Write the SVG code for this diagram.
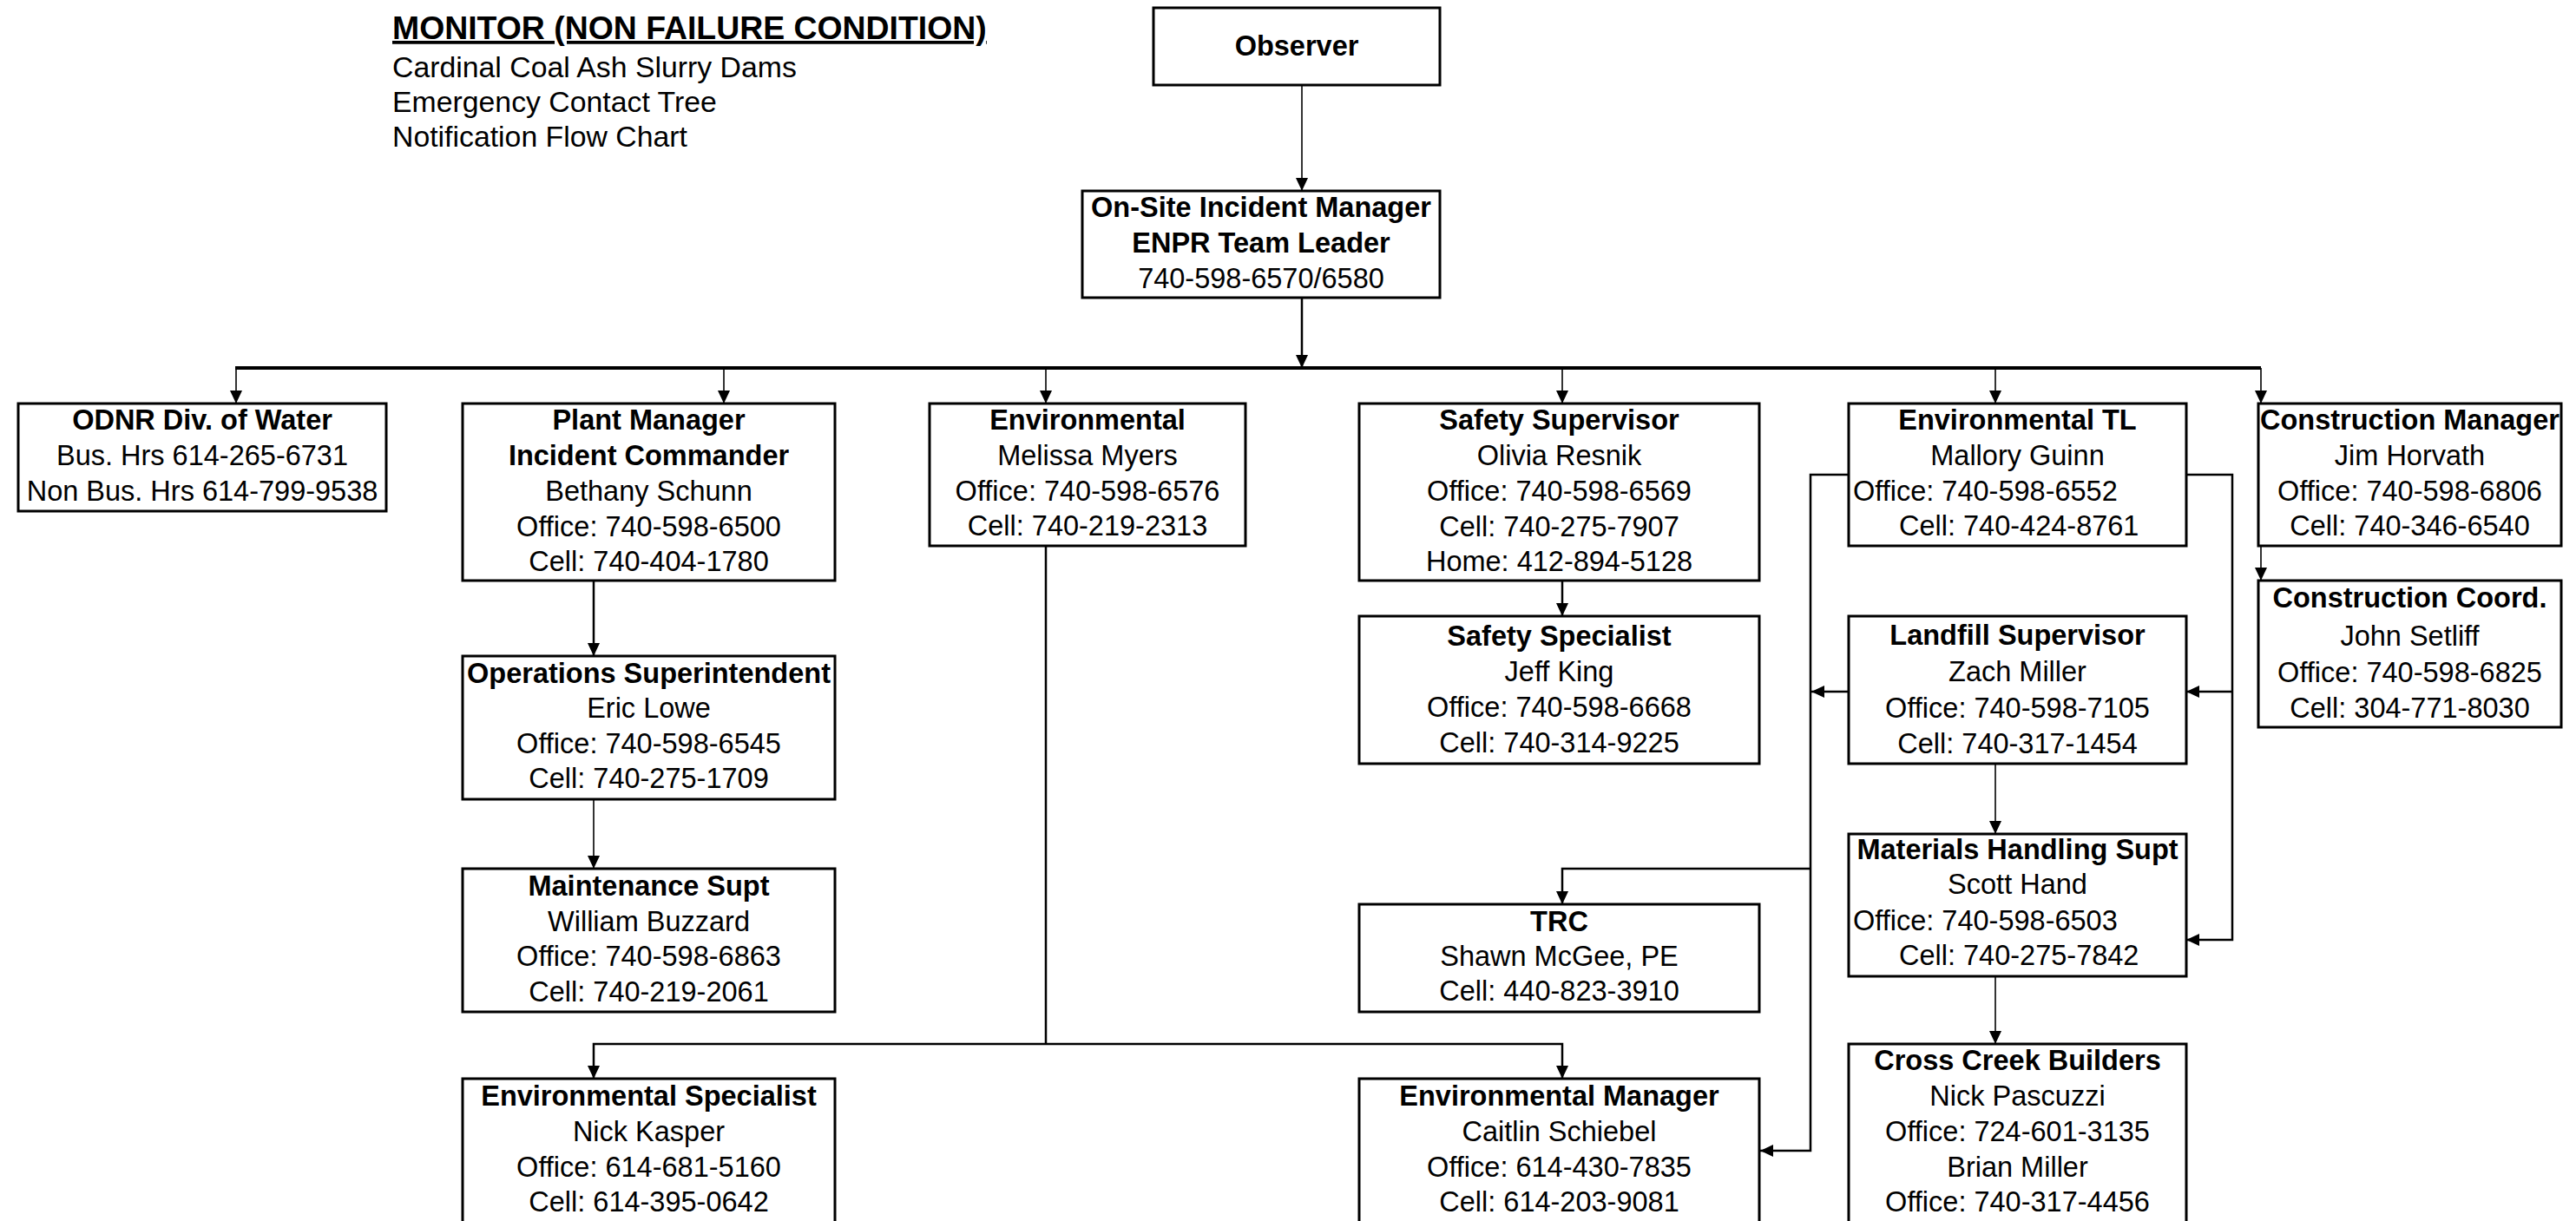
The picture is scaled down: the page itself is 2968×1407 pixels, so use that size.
<svg xmlns="http://www.w3.org/2000/svg" width="2968" height="1407" viewBox="0 0 2968 1407">
<defs>
<style>
.box{fill:#fff;stroke:#000;stroke-width:3}
.t{font-family:"Liberation Sans",Arial,sans-serif;font-size:32.5px;text-anchor:middle;fill:#000}
.s{text-anchor:start}
.b{font-weight:bold}
.c{fill:none;stroke:#000;stroke-width:2.5}
.th{stroke-width:1.6}
.bus{stroke-width:4}
.hd{font-family:"Liberation Sans",Arial,sans-serif;font-size:33.8px;fill:#000}
</style>
<marker id="ah" markerUnits="userSpaceOnUse" markerWidth="16" markerHeight="14" refX="15" refY="7" orient="auto"><path d="M0,0 L15,7 L0,14 z" fill="#000"/></marker>
</defs>
<rect width="2968" height="1407" fill="#fff"/>

<g id="header">
<text class="hd" x="452" y="45" style="font-weight:bold;font-size:37.4px;text-decoration:underline">MONITOR (NON FAILURE CONDITION)</text>
<text class="hd" x="452" y="89">Cardinal Coal Ash Slurry Dams</text>
<text class="hd" x="452" y="129">Emergency Contact Tree</text>
<text class="hd" x="452" y="169">Notification Flow Chart</text>
</g>

<g id="connectors">
<path class="c th" d="M1500,99 V220" marker-end="url(#ah)"/>
<path class="c" d="M1500,343 V424" marker-end="url(#ah)"/>
<path class="c bus" d="M271,424 H2605"/>
<path class="c th" d="M272,424 V465" marker-end="url(#ah)"/>
<path class="c th" d="M834,424 V465" marker-end="url(#ah)"/>
<path class="c th" d="M1205,424 V465" marker-end="url(#ah)"/>
<path class="c th" d="M1800,424 V465" marker-end="url(#ah)"/>
<path class="c th" d="M2299,424 V465" marker-end="url(#ah)"/>
<path class="c th" d="M2605,424 V465" marker-end="url(#ah)"/>
<path class="c" d="M684,669 V756" marker-end="url(#ah)"/>
<path class="c th" d="M684,921 V1001" marker-end="url(#ah)"/>
<path class="c" d="M1205,629 V1203"/>
<path class="c" d="M1205,1203 H684 V1243" marker-end="url(#ah)"/>
<path class="c" d="M1205,1203 H1800 V1243" marker-end="url(#ah)"/>
<path class="c" d="M1800,669 V710" marker-end="url(#ah)"/>
<path class="c" d="M2130,547 H2086 V1326 H2028" marker-end="url(#ah)"/>
<path class="c" d="M2086,1001 H1800 V1042" marker-end="url(#ah)"/>
<path class="c" d="M2130,797 H2087" marker-end="url(#ah)"/>
<path class="c" d="M2519,547 H2572 V1083 H2519" marker-end="url(#ah)"/>
<path class="c" d="M2572,797 H2519" marker-end="url(#ah)"/>
<path class="c th" d="M2299,880 V961" marker-end="url(#ah)"/>
<path class="c th" d="M2299,1125 V1203" marker-end="url(#ah)"/>
<path class="c th" d="M2605,629 V669" marker-end="url(#ah)"/>
</g>

<g id="observer">
<rect class="box" x="1329" y="9" width="330" height="89"/>
<text class="t b" x="1494" y="64">Observer</text>
</g>

<g id="onsite">
<rect class="box" x="1247" y="220" width="412" height="123"/>
<text class="t b" x="1453" y="250">On-Site Incident Manager</text>
<text class="t b" x="1453" y="291">ENPR Team Leader</text>
<text class="t" x="1453" y="332">740-598-6570/6580</text>
</g>

<g id="odnr">
<rect class="box" x="21" y="465" width="424" height="124"/>
<text class="t b" x="233" y="495">ODNR Div. of Water</text>
<text class="t" x="233" y="536">Bus. Hrs 614-265-6731</text>
<text class="t" x="233" y="577">Non Bus. Hrs 614-799-9538</text>
</g>

<g id="plant-manager">
<rect class="box" x="533" y="465" width="429" height="204"/>
<text class="t b" x="747.5" y="495">Plant Manager</text>
<text class="t b" x="747.5" y="536">Incident Commander</text>
<text class="t" x="747.5" y="577">Bethany Schunn</text>
<text class="t" x="747.5" y="618">Office: 740-598-6500</text>
<text class="t" x="747.5" y="658">Cell: 740-404-1780</text>
</g>

<g id="operations">
<rect class="box" x="533" y="756" width="429" height="165"/>
<text class="t b" x="747.5" y="787">Operations Superintendent</text>
<text class="t" x="747.5" y="827">Eric Lowe</text>
<text class="t" x="747.5" y="868">Office: 740-598-6545</text>
<text class="t" x="747.5" y="908">Cell: 740-275-1709</text>
</g>

<g id="maintenance">
<rect class="box" x="533" y="1001" width="429" height="165"/>
<text class="t b" x="747.5" y="1032">Maintenance Supt</text>
<text class="t" x="747.5" y="1073">William Buzzard</text>
<text class="t" x="747.5" y="1113">Office: 740-598-6863</text>
<text class="t" x="747.5" y="1154">Cell: 740-219-2061</text>
</g>

<g id="env-specialist">
<rect class="box" x="533" y="1243" width="429" height="172"/>
<text class="t b" x="747.5" y="1274">Environmental Specialist</text>
<text class="t" x="747.5" y="1315">Nick Kasper</text>
<text class="t" x="747.5" y="1356">Office: 614-681-5160</text>
<text class="t" x="747.5" y="1396">Cell: 614-395-0642</text>
</g>

<g id="environmental">
<rect class="box" x="1071" y="465" width="364" height="164"/>
<text class="t b" x="1253" y="495">Environmental</text>
<text class="t" x="1253" y="536">Melissa Myers</text>
<text class="t" x="1253" y="577">Office: 740-598-6576</text>
<text class="t" x="1253" y="617">Cell: 740-219-2313</text>
</g>

<g id="safety-supervisor">
<rect class="box" x="1566" y="465" width="461" height="204"/>
<text class="t b" x="1796.5" y="495">Safety Supervisor</text>
<text class="t" x="1796.5" y="536">Olivia Resnik</text>
<text class="t" x="1796.5" y="577">Office: 740-598-6569</text>
<text class="t" x="1796.5" y="618">Cell: 740-275-7907</text>
<text class="t" x="1796.5" y="658">Home: 412-894-5128</text>
</g>

<g id="safety-specialist">
<rect class="box" x="1566" y="710" width="461" height="170"/>
<text class="t b" x="1796.5" y="744">Safety Specialist</text>
<text class="t" x="1796.5" y="785">Jeff King</text>
<text class="t" x="1796.5" y="826">Office: 740-598-6668</text>
<text class="t" x="1796.5" y="867">Cell: 740-314-9225</text>
</g>

<g id="trc">
<rect class="box" x="1566" y="1042" width="461" height="124"/>
<text class="t b" x="1796.5" y="1073">TRC</text>
<text class="t" x="1796.5" y="1113">Shawn McGee, PE</text>
<text class="t" x="1796.5" y="1153">Cell: 440-823-3910</text>
</g>

<g id="env-manager">
<rect class="box" x="1566" y="1243" width="461" height="172"/>
<text class="t b" x="1796.5" y="1274">Environmental Manager</text>
<text class="t" x="1796.5" y="1315">Caitlin Schiebel</text>
<text class="t" x="1796.5" y="1356">Office: 614-430-7835</text>
<text class="t" x="1796.5" y="1396">Cell: 614-203-9081</text>
</g>

<g id="env-tl">
<rect class="box" x="2130" y="465" width="389" height="164"/>
<text class="t b" x="2324.5" y="495">Environmental TL</text>
<text class="t" x="2324.5" y="536">Mallory Guinn</text>
<text class="t s" x="2135" y="577">Office: 740-598-6552</text>
<text class="t s" x="2188" y="617">Cell: 740-424-8761</text>
</g>

<g id="landfill">
<rect class="box" x="2130" y="710" width="389" height="170"/>
<text class="t b" x="2324.5" y="743">Landfill Supervisor</text>
<text class="t" x="2324.5" y="785">Zach Miller</text>
<text class="t" x="2324.5" y="827">Office: 740-598-7105</text>
<text class="t" x="2324.5" y="868">Cell: 740-317-1454</text>
</g>

<g id="materials">
<rect class="box" x="2130" y="961" width="389" height="164"/>
<text class="t b" x="2324.5" y="990">Materials Handling Supt</text>
<text class="t" x="2324.5" y="1030">Scott Hand</text>
<text class="t s" x="2135" y="1072">Office: 740-598-6503</text>
<text class="t s" x="2188" y="1112">Cell: 740-275-7842</text>
</g>

<g id="cross-creek">
<rect class="box" x="2130" y="1203" width="389" height="212"/>
<text class="t b" x="2324.5" y="1233">Cross Creek Builders</text>
<text class="t" x="2324.5" y="1274">Nick Pascuzzi</text>
<text class="t" x="2324.5" y="1315">Office: 724-601-3135</text>
<text class="t" x="2324.5" y="1356">Brian Miller</text>
<text class="t" x="2324.5" y="1396">Office: 740-317-4456</text>
</g>

<g id="construction-manager">
<rect class="box" x="2602" y="465" width="349" height="164"/>
<text class="t b" x="2776.5" y="495">Construction Manager</text>
<text class="t" x="2776.5" y="536">Jim Horvath</text>
<text class="t" x="2776.5" y="577">Office: 740-598-6806</text>
<text class="t" x="2776.5" y="617">Cell: 740-346-6540</text>
</g>

<g id="construction-coord">
<rect class="box" x="2602" y="669" width="349" height="169"/>
<text class="t b" x="2776.5" y="700">Construction Coord.</text>
<text class="t" x="2776.5" y="744">John Setliff</text>
<text class="t" x="2776.5" y="786">Office: 740-598-6825</text>
<text class="t" x="2776.5" y="827">Cell: 304-771-8030</text>
</g>
</svg>
